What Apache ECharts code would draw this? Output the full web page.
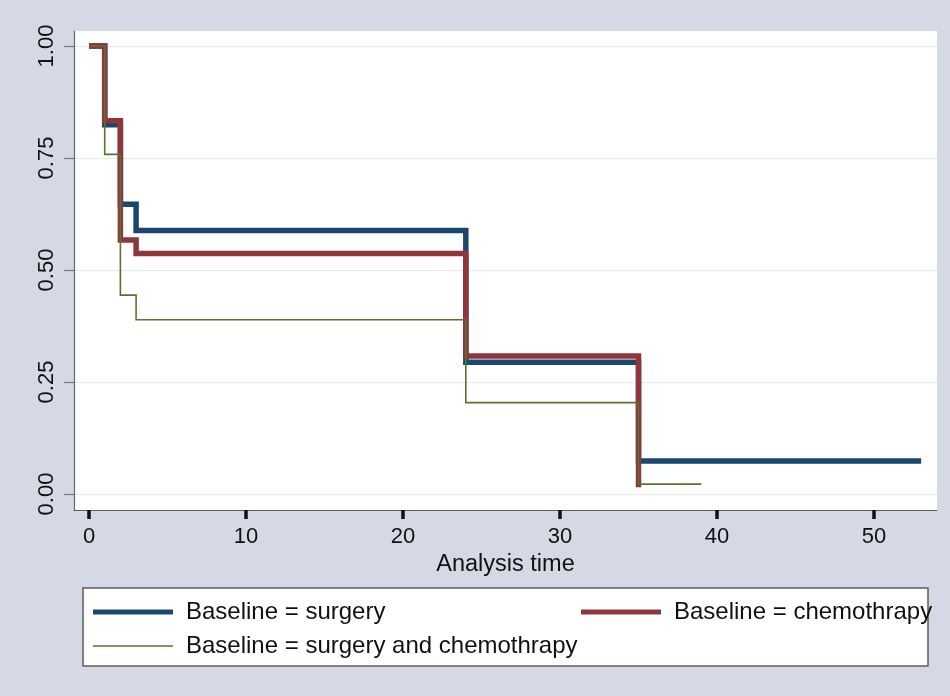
<!DOCTYPE html>
<html>
<head>
<meta charset="utf-8">
<script src="https://cdn.jsdelivr.net/npm/echarts@6/dist/echarts.min.js"></script>
<style>
  html, body { margin: 0; padding: 0; background: #d5d9e6; }
  #chart { width: 950px; height: 696px; }
</style>
</head>
<body>
<div id="chart"></div>
<script>
// Kaplan–Meier survival estimates by baseline treatment
const surgeryTime = [0, 1, 2, 3, 24, 35, 53];
const surgerySurv = [1.0, 0.824, 0.647, 0.588, 0.294, 0.0735, 0.0735];

const chemoTime = [0, 1, 2, 3, 24, 35];
const chemoSurv = [1.0, 0.833, 0.567, 0.537, 0.308, 0.015];

const comboTime = [0, 1, 2, 3, 24, 35, 39];
const comboSurv = [1.0, 0.758, 0.444, 0.389, 0.204, 0.022, 0.022];

const seriesNames = [
  'Baseline = surgery',
  'Baseline = chemothrapy',
  'Baseline = surgery and chemothrapy'
];

const xTicks = [0, 10, 20, 30, 40, 50];
const yTicks = [0, 0.25, 0.5, 0.75, 1.0];
const xTitle = 'Analysis time';

const FONT = 'Liberation Sans, Arial, sans-serif';
const NAVY = '#1a476f';
const MAROON = '#90353b';
const FOREST = '#55752f';

function pairs(xs, ys) {
  return xs.map((x, i) => [x, ys[i]]);
}

function stepSeries(name, xs, ys, color, width, z) {
  return {
    name: name,
    type: 'line',
    step: 'end',
    data: pairs(xs, ys),
    showSymbol: false,
    symbol: 'none',
    color: color,
    itemStyle: { color: color },
    lineStyle: { color: color, width: width, cap: 'butt', join: 'miter' },
    emphasis: { disabled: true },
    animation: false,
    z: z
  };
}

function legendFor(name, left, top, h) {
  return {
    data: [name],
    left: left,
    top: top,
    padding: 0,
    icon: 'rect',
    itemWidth: 80,
    itemHeight: h,
    selectedMode: false,
    textStyle: {
      fontFamily: FONT,
      fontSize: 24,
      color: '#111',
      padding: [0, 0, 0, 8]
    }
  };
}

const chart = echarts.init(document.getElementById('chart'), null, { renderer: 'canvas' });

chart.setOption({
  backgroundColor: '#d5d9e6',
  animation: false,
  grid: {
    left: 74,
    top: 31,
    width: 863,
    height: 479,
    show: true,
    backgroundColor: '#ffffff',
    borderWidth: 0
  },
  xAxis: {
    type: 'value',
    min: -0.955,
    max: 54.01,
    name: xTitle,
    nameLocation: 'middle',
    nameGap: 38,
    nameTextStyle: { fontFamily: FONT, fontSize: 23.5, color: '#111' },
    axisLine: { show: true, onZero: false, lineStyle: { color: '#5f5f5f', width: 1.2 } },
    axisTick: {
      show: true,
      customValues: xTicks,
      length: 9,
      lineStyle: { color: '#111', width: 3.5 }
    },
    axisLabel: {
      customValues: xTicks,
      margin: 16,
      fontFamily: FONT,
      fontSize: 22,
      color: '#111'
    },
    splitLine: { show: false }
  },
  yAxis: {
    type: 'value',
    min: -0.0357,
    max: 1.0335,
    axisLine: { show: true, onZero: false, lineStyle: { color: '#6b6b6b', width: 1.2 } },
    axisTick: {
      show: true,
      customValues: yTicks,
      length: 10,
      lineStyle: { color: '#777', width: 1.2 }
    },
    axisLabel: {
      customValues: yTicks,
      rotate: 90,
      margin: 16,
      fontFamily: FONT,
      fontSize: 22,
      color: '#111',
      formatter: v => v.toFixed(2)
    },
    splitLine: {
      show: true,
      lineStyle: { color: '#e3eaec', width: 1.2 }
    }
  },
  legend: [
    legendFor(seriesNames[0], 93, 600, 5),
    legendFor(seriesNames[1], 581, 600, 5),
    legendFor(seriesNames[2], 93, 634, 1.6)
  ],
  graphic: [
    {
      type: 'rect',
      z: -1,
      shape: { x: 83, y: 588, width: 845, height: 78 },
      style: { fill: '#ffffff', stroke: '#5c5c5c', lineWidth: 1.5 }
    }
  ],
  series: [
    stepSeries(seriesNames[0], surgeryTime, surgerySurv, NAVY, 5.5, 2),
    stepSeries(seriesNames[1], chemoTime, chemoSurv, MAROON, 5.5, 3),
    stepSeries(seriesNames[2], comboTime, comboSurv, FOREST, 1.6, 4)
  ]
});
</script>
</body>
</html>
